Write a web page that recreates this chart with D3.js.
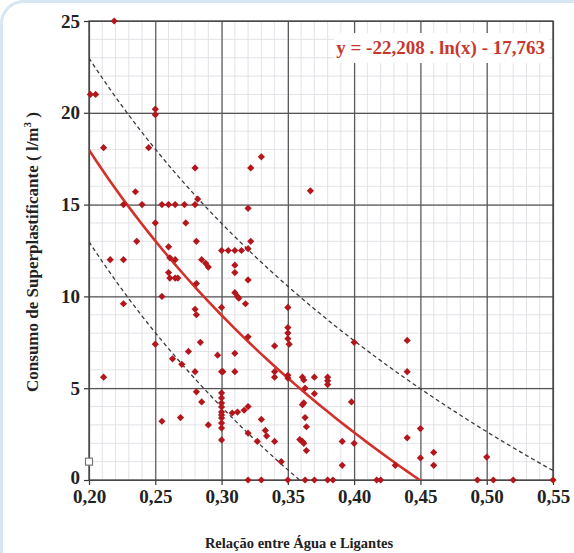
<!DOCTYPE html>
<html>
<head>
<meta charset="utf-8">
<script src="https://cdn.jsdelivr.net/npm/d3@7"></script>
<style>
  html, body { margin: 0; padding: 0; background: #fff; }
  svg { display: block; font-family: "Liberation Serif", "DejaVu Serif", serif; }
</style>
</head>
<body>
<div class="vis-scatter"></div>
<script>
// relação água/ligantes (x) e consumo de superplastificante (y)
const relacao = [
  0.219, 0.201, 0.205, 0.250, 0.250, 0.211, 0.245, 0.280, 0.322, 0.330,
  0.367, 0.235, 0.226, 0.240, 0.255, 0.260, 0.265, 0.272, 0.282, 0.280,
  0.320, 0.250, 0.273, 0.236, 0.281, 0.322, 0.260, 0.300, 0.305, 0.310,
  0.315, 0.320, 0.216, 0.226, 0.261, 0.265, 0.285, 0.288, 0.290, 0.310,
  0.310, 0.260, 0.261, 0.265, 0.267, 0.320, 0.281, 0.310, 0.312, 0.313,
  0.255, 0.318, 0.226, 0.280, 0.281, 0.300, 0.350, 0.350, 0.350, 0.350,
  0.351, 0.320, 0.340, 0.284, 0.250, 0.275, 0.297, 0.310, 0.263, 0.270,
  0.280, 0.300, 0.301, 0.310, 0.340, 0.340, 0.350, 0.350, 0.361, 0.362,
  0.370, 0.380, 0.380, 0.380, 0.400, 0.440, 0.440, 0.211, 0.281, 0.285,
  0.300, 0.300, 0.300, 0.300, 0.300, 0.300, 0.300, 0.300, 0.300, 0.300,
  0.308, 0.312, 0.317, 0.320, 0.290, 0.255, 0.269, 0.320, 0.330, 0.333,
  0.334, 0.327, 0.340, 0.345, 0.363, 0.370, 0.362, 0.361, 0.398, 0.363,
  0.364, 0.359, 0.361, 0.362, 0.364, 0.391, 0.400, 0.391, 0.431, 0.440,
  0.450, 0.450, 0.460, 0.460, 0.500,
  0.320, 0.330, 0.350, 0.363, 0.370, 0.380, 0.384, 0.417, 0.420, 0.493,
  0.505, 0.520, 0.550
];
const consumo = [
  25.0, 21.0, 21.0, 20.2, 19.9, 18.1, 18.1, 17.0, 17.0, 17.6,
  15.75, 15.7, 15.0, 15.0, 15.0, 15.0, 15.0, 15.0, 15.3, 15.0,
  14.8, 14.0, 14.0, 13.0, 13.0, 13.0, 12.7, 12.5, 12.5, 12.5,
  12.5, 12.6, 12.0, 12.0, 12.1, 12.0, 12.0, 11.8, 11.6, 11.7,
  11.3, 11.3, 11.0, 11.0, 11.0, 10.9, 10.7, 10.2, 10.0, 9.9,
  10.0, 9.6, 9.6, 9.3, 9.0, 9.4, 9.4, 8.3, 8.0, 7.7,
  7.4, 7.8, 7.3, 7.5, 7.4, 7.0, 6.8, 6.9, 6.6, 6.3,
  5.9, 5.9, 5.9, 5.9, 5.9, 5.6, 5.7, 5.55, 5.6, 5.45,
  5.6, 5.6, 5.4, 5.2, 7.5, 7.6, 5.9, 5.6, 4.8, 4.25,
  4.74, 4.47, 4.19, 3.98, 3.7, 3.54, 3.38, 3.1, 2.83, 2.18,
  3.65, 3.7, 3.8, 4.0, 3.0, 3.2, 3.4, 2.55, 3.3, 2.7,
  2.4, 2.1, 2.1, 1.0, 5.0, 4.7, 4.2, 4.1, 4.25, 3.4,
  2.9, 2.2, 2.1, 2.0, 1.6, 2.1, 2.0, 0.8, 0.8, 2.3,
  2.8, 1.2, 1.5, 0.8, 1.25,
  0, 0, 0, 0, 0, 0, 0, 0, 0, 0,
  0, 0, 0
];
// ponto isolado (marcador quadrado vazio)
const outlierX = [0.20];
const outlierY = [1.0];

// y = a . ln(x) + b, faixa de +/- 5
const trendA = -22.208;
const trendB = -17.763;
const bandOffsets = [5, -5];
const equationLabel = "y = -22,208 . ln(x) - 17,763";

const xTicks = [0.20, 0.25, 0.30, 0.35, 0.40, 0.45, 0.50, 0.55];
const yTicks = [0, 5, 10, 15, 20, 25];
const xTitle = "Relação entre Água e Ligantes";
const yTitle = "Consumo de Superplastificante ( l/m";

const drawscatter = () => {
    const W = 574, H = 553;
    const margin = { top: 21, right: 21, bottom: 73, left: 89 };
    const width = W - margin.left - margin.right;
    const height = H - margin.top - margin.bottom;

    const root = d3.select('.vis-scatter').append('svg')
        .attr('width', W)
        .attr('height', H);

    // moldura clara do slide
    root.append('rect')
        .attr('x', 1.5).attr('y', 1.5)
        .attr('width', W + 20).attr('height', H + 20)
        .attr('rx', 22)
        .attr('fill', 'none')
        .attr('stroke', '#d6e6f2')
        .attr('stroke-width', 3);

    const svg = root.append('g')
        .attr('transform', 'translate(' + margin.left + ',' + margin.top + ')');

    const x = d3.scaleLinear().domain([0.20, 0.55]).range([0, width]);
    const y = d3.scaleLinear().domain([0, 25]).range([height, 0]);

    // grade secundária
    svg.append('g')
        .selectAll('line')
        .data(d3.range(0.20, 0.5501, 0.01))
        .enter().append('line')
        .attr('x1', d => x(d)).attr('x2', d => x(d))
        .attr('y1', 0).attr('y2', height)
        .attr('stroke', '#dcdce2').attr('stroke-width', 0.8);
    svg.append('g')
        .selectAll('line')
        .data(d3.range(0, 25.01, 1))
        .enter().append('line')
        .attr('x1', 0).attr('x2', width)
        .attr('y1', d => y(d)).attr('y2', d => y(d))
        .attr('stroke', '#dcdce2').attr('stroke-width', 0.8);

    // grade principal
    svg.append('g')
        .attr('transform', 'translate(0,' + height + ')')
        .call(d3.axisBottom(x).tickValues(xTicks).tickSize(-height).tickFormat(''))
        .call(g => g.select('.domain').remove())
        .selectAll('line').attr('stroke', '#555').attr('stroke-width', 1.2);
    svg.append('g')
        .call(d3.axisLeft(y).tickValues(yTicks).tickSize(-width).tickFormat(''))
        .call(g => g.select('.domain').remove())
        .selectAll('line').attr('stroke', '#555').attr('stroke-width', 1.2);

    // eixos com rótulos
    const fmt = d => d.toFixed(2).replace('.', ',');
    const xAxis = svg.append('g')
        .attr('transform', 'translate(0,' + height + ')')
        .call(d3.axisBottom(x).tickValues(xTicks).tickSize(5).tickPadding(5).tickFormat(fmt));
    const yAxis = svg.append('g')
        .call(d3.axisLeft(y).tickValues(yTicks).tickSize(5).tickPadding(4));
    [xAxis, yAxis].forEach(a => {
        a.attr('font-family', null).attr('font-size', null);
        a.select('.domain').remove();
        a.selectAll('line').attr('stroke', '#333').attr('stroke-width', 1.2);
        a.selectAll('text')
            .attr('fill', '#222')
            .style('font-family', '"Liberation Serif", serif')
            .style('font-weight', 'bold')
            .style('font-size', '19px');
    });
    // rótulo "0" do eixo y levemente acima, como no original
    yAxis.selectAll('text').filter(d => d === 0).attr('dy', '0.2em');

    svg.append('rect')
        .attr('width', width).attr('height', height)
        .attr('fill', 'none')
        .attr('stroke', '#444').attr('stroke-width', 1.3);

    // caixa da equação
    svg.append('rect')
        .attr('x', x(0.385)).attr('y', 12)
        .attr('width', width - x(0.385) - 4).attr('height', 30)
        .attr('fill', '#fff');
    svg.append('text')
        .attr('x', width - 8).attr('y', 33)
        .attr('text-anchor', 'end')
        .attr('fill', '#c8372d')
        .style('font-weight', 'bold')
        .style('font-size', '19px')
        .text(equationLabel);

    // curvas de tendência
    svg.append('clipPath').attr('id', 'plot-clip')
        .append('rect').attr('width', width).attr('height', height);
    const xs = d3.range(0.20, 0.5501, 0.005);
    const trend = (off) => d3.line()
        .x(d => x(d))
        .y(d => y(trendA * Math.log(d) + trendB + off));

    bandOffsets.forEach(off => {
        svg.append('path')
            .datum(xs)
            .attr('clip-path', 'url(#plot-clip)')
            .attr('fill', 'none')
            .attr('stroke', '#3a3a3a')
            .attr('stroke-width', 1.3)
            .attr('stroke-dasharray', '4,3')
            .attr('d', trend(off));
    });
    svg.append('path')
        .datum(xs)
        .attr('clip-path', 'url(#plot-clip)')
        .attr('fill', 'none')
        .attr('stroke', '#d4302a')
        .attr('stroke-width', 2.6)
        .attr('d', trend(0));

    // pontos
    const points = relacao.map((v, i) => ({ x: v, y: consumo[i] }));
    svg.selectAll('.pt')
        .data(points)
        .enter().append('path')
        .attr('class', 'pt')
        .attr('d', d3.symbol().type(d3.symbolSquare).size(26))
        .attr('transform', d => 'translate(' + x(d.x) + ',' + y(d.y) + ') rotate(45)')
        .attr('fill', '#b3171c');

    svg.selectAll('.outlier')
        .data(outlierX.map((v, i) => ({ x: v, y: outlierY[i] })))
        .enter().append('rect')
        .attr('class', 'outlier')
        .attr('x', d => x(d.x) - 3.5).attr('y', d => y(d.y) - 3.5)
        .attr('width', 7).attr('height', 7)
        .attr('fill', '#fff')
        .attr('stroke', '#777').attr('stroke-width', 1.2);

    // títulos
    root.append('text')
        .attr('x', 299)
        .attr('y', 548)
        .attr('text-anchor', 'middle')
        .attr('fill', '#222')
        .style('font-weight', 'bold')
        .style('font-size', '14.5px')
        .text(xTitle);

    const yt = root.append('text')
        .attr('transform', 'translate(38,252) rotate(-90)')
        .attr('text-anchor', 'middle')
        .attr('fill', '#222')
        .style('font-weight', 'bold')
        .style('font-size', '17px');
    yt.append('tspan').text(yTitle);
    yt.append('tspan').attr('dy', -7).style('font-size', '11px').text('3');
    yt.append('tspan').attr('dy', 7).text(' )');
};

drawscatter();
</script>
</body>
</html>
